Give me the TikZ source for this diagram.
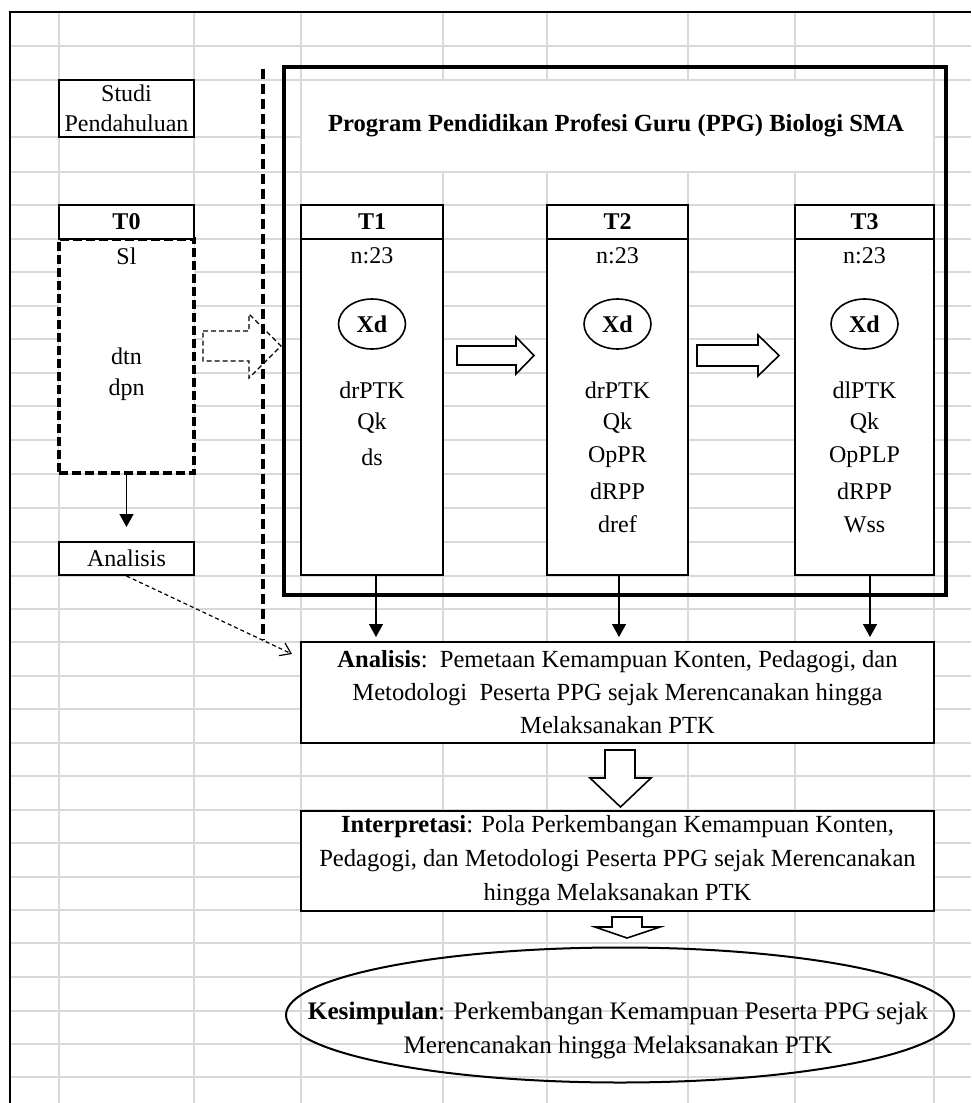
\documentclass[tikz,border=0pt]{standalone}
\usepackage{fontspec}
\setmainfont{Liberation Serif}
\usetikzlibrary{arrows.meta,shapes.geometric}

\definecolor{gridgray}{RGB}{217,217,217}

\begin{document}
\begin{tikzpicture}
    [%%%%%%%%%%%%%%%%%%%%%%%%%%%%%%
        x=0.5pt, y=-0.5pt,
        every node/.style={font=\fontsize{12}{16.75}\selectfont},
        gridline/.style={draw=gridgray, line width=1pt},
        cell/.style={rectangle, draw=black, line width=1pt, fill=white, inner sep=0pt},
        dashcell/.style={cell, line width=1.8pt, dash pattern=on 4.5pt off 2pt},
        tbody/.style={cell, minimum height=168pt},
        thead/.style={cell, minimum height=17pt, font=\fontsize{12}{14}\selectfont\bfseries},
        xd/.style={ellipse, draw=black, line width=0.8pt, fill=white, minimum width=33.5pt,
            minimum height=25pt, inner sep=0pt, font=\fontsize{12}{14}\selectfont\bfseries},
        txtbox/.style={cell, minimum width=316.5pt, align=center},
        block/.style={draw=black, line width=0.8pt, fill=white, line join=miter},
        arr/.style={-{Triangle[length=6.5pt,width=7pt]}, line width=0.7pt},
    ]%%%%%%%%%%%%%%%%%%%%%%%%%%%%%%

\useasboundingbox (0,0) rectangle (971,1103);

% sheet grid
\foreach \x in {59,194,301,443,547,688,795,934}
    \draw[gridline] (\x,12) -- (\x,1103);
\foreach \y in {46,80,137,172,205,239,272,306,339,373,406,440,474,508,542,576,609,642,
                676,709,743,776,810,843,877,910,943,977,1011,1044,1077}
    \draw[gridline] (10,\y) -- (971,\y);
\fill[white] (302,81) rectangle (933,171);
\draw[line width=1.4pt] (10,1103) -- (10,12) -- (971,12);

% left column
\node[cell, minimum width=67.5pt, minimum height=28.5pt, align=center,
      font=\fontsize{12}{15}\selectfont] (studi) at (126.5,108.5) {Studi\\Pendahuluan};
\node[dashcell, minimum width=67.5pt, minimum height=117pt] (t0body) at (126.5,356) {};
\node[thead, minimum width=67.5pt] (t0) at (126.5,222) {T0};
\node (t0sl) at (126.5,256) {Sl};
\node (t0dtn) at (126.5,356) {dtn};
\node (t0dpn) at (126.5,390) {dpn};
\node[cell, minimum width=67.5pt, minimum height=16.5pt] (anak) at (126.5,558.5) {Analisis};

% program box
\node[draw=black, line width=1.7pt, minimum width=331pt, minimum height=264pt,
      inner sep=0pt] (ppgbox) at (615,331) {};
\node[font=\fontsize{12.3}{14}\selectfont\bfseries] (ppgtitle) at (616,126)
    {Program Pendidikan Profesi Guru (PPG) Biologi SMA};

\foreach \n/\cx/\w in {1/372/71pt,2/617.5/70.5pt,3/864.5/69.5pt}{
    \node[tbody, minimum width=\w] (tbody\n) at (\cx,407) {};
    \node[thead, minimum width=\w] (thead\n) at (\cx,222) {T\n};
    \node (tn\n) at (\cx,256) {n:23};
    \node[xd] (txd\n) at (\cx,324) {Xd};
}
\foreach \s [count=\i] in {drPTK,Qk,ds}
    \node (ta\i) at (372,{390+33.6*(\i-1)}) {\s};
\foreach \s [count=\i] in {drPTK,Qk,OpPR,dRPP,dref}
    \node (tb\i) at (617.5,{390+33.6*(\i-1)}) {\s};
\foreach \s [count=\i] in {dlPTK,Qk,OpPLP,dRPP,Wss}
    \node (tc\i) at (864.5,{390+33.6*(\i-1)}) {\s};

% block arrows
\draw[block, line width=0.6pt, dash pattern=on 2.5pt off 1.5pt]
    (203,331) -- (249,331) -- (249,314) -- (281,346) -- (249,378) -- (249,361) -- (203,361) -- cycle;
\draw[block] (457,346) -- (516,346) -- (516,337) -- (534,355.5) -- (516,374) -- (516,365) -- (457,365) -- cycle;
\draw[block] (697,345) -- (758,345) -- (758,335) -- (779,355.5) -- (758,376) -- (758,366) -- (697,366) -- cycle;

\draw[line width=1.6pt, dash pattern=on 5pt off 2.5pt] (263,69) -- (263,640);

% bottom part
\node[txtbox, minimum height=50.5pt, font=\fontsize{12.3}{16.5}\selectfont] (analisis) at (617.5,692.5)
    {\textbf{Analisis}:\ \ Pemetaan Kemampuan Konten, Pedagogi, dan\\
     Metodologi\ \ Peserta PPG sejak Merencanakan hingga\\Melaksanakan PTK};
\node[txtbox, minimum height=50pt, font=\fontsize{12.3}{17}\selectfont] (interp) at (617.5,860.5)
    {\textbf{Interpretasi}: Pola Perkembangan Kemampuan Konten,\\
     Pedagogi, dan Metodologi Peserta PPG sejak Merencanakan\\hingga Melaksanakan PTK};
\node[ellipse, draw=black, line width=1pt, minimum width=334pt, minimum height=67.5pt]
    (kesimpulan) at (620,1015) {};
\node[align=center, font=\fontsize{12.6}{17}\selectfont] (kestext) at (618,1030)
    {\textbf{Kesimpulan}: Perkembangan Kemampuan Peserta PPG sejak\\
     Merencanakan hingga Melaksanakan PTK};

\draw[block] (605,750) -- (635,750) -- (635,778) -- (651,778) -- (620.5,807) -- (590,778) -- (605,778) -- cycle;
\draw[block] (612,917) -- (642,917) -- (642,927) -- (660,927) -- (627,938) -- (595,927) -- (612,927) -- cycle;

% connectors
\draw[arr, shorten >=7pt] (t0body.south) -- (anak.north);
\coordinate (anaend) at (292,654);
\draw[-{Straight Barb[length=5pt,width=7pt]}, line width=0.6pt, dash pattern=on 2pt off 1.5pt]
    (anak.south) -- (anaend);
\draw[arr, shorten >=2pt] ([xshift=2pt]tbody1.south) -- ([xshift=2pt]tbody1.south |- analisis.north);
\draw[arr, shorten >=2pt] ([xshift=0.75pt]tbody2.south) -- ([xshift=0.75pt]tbody2.south |- analisis.north);
\draw[arr, shorten >=2pt] ([xshift=2.75pt]tbody3.south) -- ([xshift=2.75pt]tbody3.south |- analisis.north);
\end{tikzpicture}
\end{document}
